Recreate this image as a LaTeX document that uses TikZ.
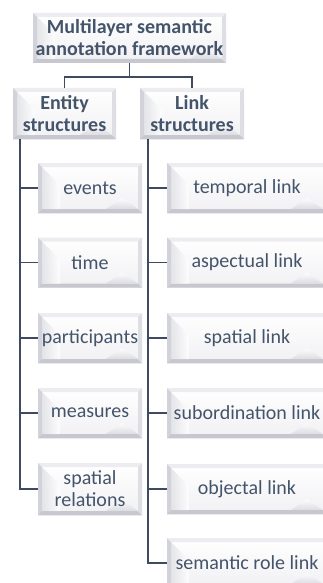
\documentclass[tikz,border=0pt]{standalone}
\usepackage{fontspec}
\setmainfont{Carlito}
\definecolor{txt}{HTML}{44546A}
\definecolor{ln}{HTML}{3D4A60}
\definecolor{bvtop}{HTML}{EDEDF1}
\definecolor{bvleft}{HTML}{D2D3DA}
\definecolor{bvbot}{HTML}{C6C7CF}
\definecolor{bvright}{HTML}{DEDFE5}
\begin{document}
\begin{tikzpicture}[x=1pt,y=-1pt,
  bevbox/.style={rectangle, inner sep=0pt, align=center, text=txt,
    font=\fontsize{20}{22}\selectfont,
    path picture={
      \def\bb{path picture bounding box}
      \shade[top color=white, bottom color=bvtop!80!white] (\bb.south west) rectangle (\bb.north east);
      \fill[bvtop] (\bb.north west) -- (\bb.north east) -- ([shift={(-4pt,-4pt)}]\bb.north east) -- ([shift={(4pt,-4pt)}]\bb.north west) -- cycle;
      \fill[bvleft] (\bb.north west) -- ([shift={(4pt,-4pt)}]\bb.north west) -- ([shift={(4pt,4pt)}]\bb.south west) -- (\bb.south west) -- cycle;
      \fill[bvbot] (\bb.south west) -- ([shift={(4pt,4pt)}]\bb.south west) -- ([shift={(-4pt,4pt)}]\bb.south east) -- (\bb.south east) -- cycle;
      \fill[bvright] (\bb.south east) -- ([shift={(-4pt,4pt)}]\bb.south east) -- ([shift={(-4pt,-4pt)}]\bb.north east) -- (\bb.north east) -- cycle;
      \shade[left color=bvleft!70!white, right color=white, opacity=0.8]
        ([shift={(4pt,-4pt)}]\bb.north west) -- ([shift={(22pt,-22pt)}]\bb.north west) -- ([shift={(22pt,4pt)}]\bb.south west) -- ([shift={(4pt,4pt)}]\bb.south west) -- cycle;
      \shade[top color=white, bottom color=bvbot!70!white, opacity=0.8]
        ([shift={(-20pt,-10pt)}]\bb.east) -- ([shift={(-4pt,4pt)}]\bb.south east) -- ([shift={(-36pt,4pt)}]\bb.south east) -- cycle;
    }},
  head/.style={bevbox, font=\fontsize{20}{22}\selectfont\bfseries},
  conn/.style={draw=ln, line width=1.8pt}
]
\useasboundingbox (0,0) rectangle (323,583);
\clip (0,0) rectangle (323,583);

\node[head, minimum width=193pt, minimum height=50pt] (top) at (129.5,38) {Multilayer semantic\\annotation framework};
\node[head, minimum width=103pt, minimum height=51pt] (ent) at (64.5,113.5) {Entity\\structures};
\node[head, minimum width=104pt, minimum height=51pt] (lnk) at (192,113.5) {Link\\structures};

\tikzset{ec/.style={bevbox, minimum width=104pt, minimum height=50pt},
         lc/.style={bevbox, minimum width=160pt, minimum height=50pt}}
\node[ec] (e1) at (90,188) {events};
\node[ec] (e2) at (90,262.5) {time};
\node[ec] (e3) at (90,338) {participants};
\node[ec] (e4) at (90,413) {measures};
\node[ec, minimum height=52pt] (e5) at (90,489) {spatial\\relations};

\node[lc] (l1) at (247,188) {temporal link};
\node[lc] (l2) at (247,262.5) {aspectual link};
\node[lc] (l3) at (247,338) {spatial link};
\node[lc] (l4) at (247,413) {subordination link};
\node[lc] (l5) at (247,489) {objectal link};
\node[lc] (l6) at (247,563) {semantic role link};

\draw[conn] (top.south) -- ++(0,14) -| (ent.north);
\draw[conn] (top.south) -- ++(0,14) -| (lnk.north);

\foreach \c in {e1,e2,e3,e4,e5}
  \draw[conn] ([xshift=7pt]ent.south west) |- (\c.west);
\foreach \c in {l1,l2,l3,l4,l5,l6}
  \draw[conn] ([xshift=8.5pt]lnk.south west) |- (\c.west);
\end{tikzpicture}
\end{document}
